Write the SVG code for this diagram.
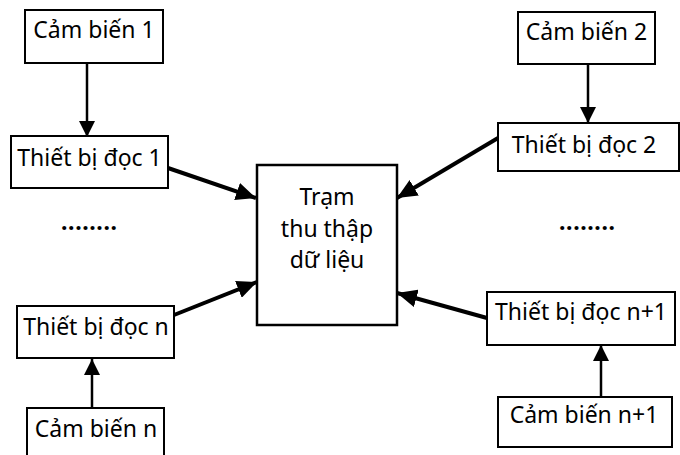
<svg xmlns="http://www.w3.org/2000/svg" width="680" height="455" viewBox="0 0 680 455">
<style>
.box{fill:#fff;stroke:#000;stroke-width:2}
.t{font-family:"Noto Sans","Open Sans","DejaVu Sans",sans-serif;font-size:23px;fill:#000;text-anchor:middle}
.thick{stroke:#000;stroke-width:4;fill:none}
.thin{stroke:#000;stroke-width:2.5;fill:none}
.dots{font-family:"Noto Sans","DejaVu Sans",sans-serif;font-size:23px;font-weight:bold;fill:#000;letter-spacing:0.6px}
</style>
<defs>
<marker id="big" markerUnits="userSpaceOnUse" markerWidth="22" markerHeight="18" refX="20" refY="9" orient="auto">
<path d="M0,0 L20,9 L0,18 Z" fill="#000"/>
</marker>
<marker id="small" markerUnits="userSpaceOnUse" markerWidth="18" markerHeight="16" refX="16" refY="8" orient="auto">
<path d="M0,0 L16,8 L0,16 Z" fill="#000"/>
</marker>
</defs>
<rect width="680" height="455" fill="#fff"/>
<g id="connectors">
<line class="thin" x1="87" y1="63" x2="87" y2="137" marker-end="url(#small)"/>
<line class="thin" x1="588" y1="64" x2="588" y2="123" marker-end="url(#small)"/>
<line class="thin" x1="92" y1="408" x2="92" y2="359" marker-end="url(#small)"/>
<line class="thin" x1="601" y1="397" x2="601" y2="345" marker-end="url(#small)"/>
<line class="thick" x1="168" y1="168" x2="256" y2="198" marker-end="url(#big)"/>
<line class="thick" x1="498" y1="138" x2="397" y2="198" marker-end="url(#big)"/>
<line class="thick" x1="174" y1="315" x2="257" y2="282" marker-end="url(#big)"/>
<line class="thick" x1="487" y1="318" x2="397" y2="293" marker-end="url(#big)"/>
</g>
<g id="cambien1"><rect class="box" x="25" y="10" width="138" height="53"/><text class="t" x="94" y="38">Cảm biến 1</text></g>
<g id="thietbi1"><rect class="box" x="11" y="136" width="157" height="52"/><text class="t" x="89.5" y="166">Thiết bị đọc 1</text></g>
<g id="cambien2"><rect class="box" x="518" y="12" width="137" height="52"/><text class="t" x="586.5" y="40">Cảm biến 2</text></g>
<g id="thietbi2"><rect class="box" x="498" y="123" width="181" height="48"/><text class="t" x="584" y="153">Thiết bị đọc 2</text></g>
<g id="tram"><rect class="box" x="257" y="165" width="140" height="160" style="stroke-width:2.5"/>
<text class="t" x="327" y="205">Trạm</text>
<text class="t" x="327" y="237">thu thập</text>
<text class="t" x="327" y="268">dữ liệu</text></g>
<g id="thietbin"><rect class="box" x="17" y="306" width="157" height="52"/><text class="t" x="96" y="335">Thiết bị đọc n</text></g>
<g id="cambienn"><rect class="box" x="27" y="408" width="137" height="55"/><text class="t" x="96" y="437">Cảm biến n</text></g>
<g id="thietbin1"><rect class="box" x="487" y="292" width="188" height="53"/><text class="t" x="581" y="320">Thiết bị đọc n+1</text></g>
<g id="cambienn1"><rect class="box" x="498" y="397" width="174" height="50"/><text class="t" x="584" y="423">Cảm biến n+1</text></g>
<g id="dots"><text class="dots" x="61" y="230">........</text><text class="dots" x="559" y="230">........</text></g>
</svg>
